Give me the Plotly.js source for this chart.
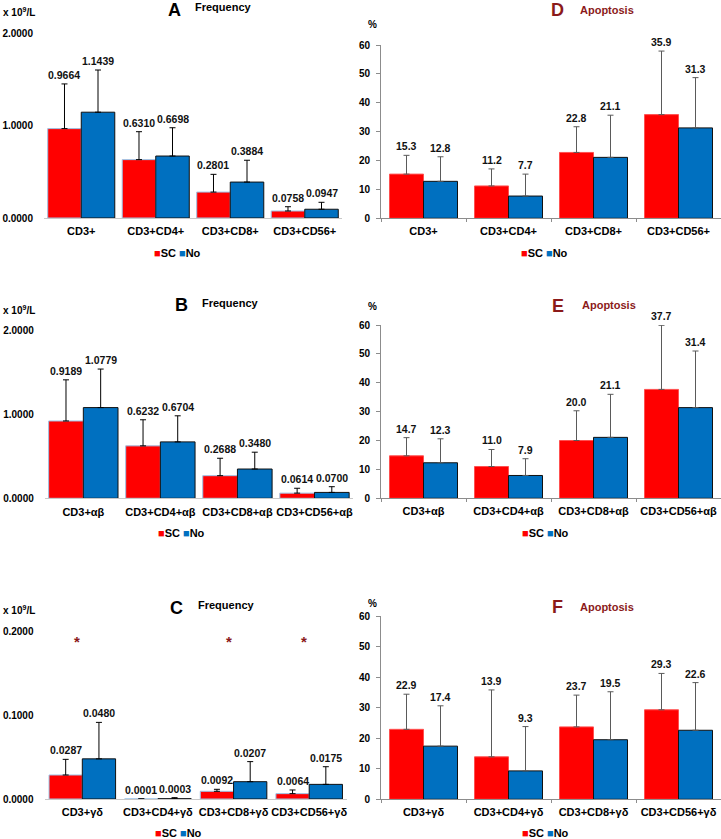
<!DOCTYPE html>
<html><head><meta charset="utf-8">
<script src="https://cdn.plot.ly/plotly-3.0.1.min.js"></script>
<style>html,body{margin:0;padding:0;background:#fff}#chart{width:721px;height:839px}</style>
</head><body><div id="chart"></div>
<script>
// ---- data ----
const categoriesA = ['CD3+', 'CD3+CD4+', 'CD3+CD8+', 'CD3+CD56+'];
const categoriesB = ['CD3+αβ', 'CD3+CD4+αβ', 'CD3+CD8+αβ', 'CD3+CD56+αβ'];
const categoriesC = ['CD3+γδ', 'CD3+CD4+γδ', 'CD3+CD8+γδ', 'CD3+CD56+γδ'];
const seriesNames = ['SC', 'No'];

const freqA_SC = [0.9664, 0.6310, 0.2801, 0.0758];
const freqA_SC_err = [0.483, 0.302, 0.192, 0.046];
const freqA_No = [1.1439, 0.6698, 0.3884, 0.0947];
const freqA_No_err = [0.456, 0.306, 0.236, 0.075];

const freqB_SC = [0.9189, 0.6232, 0.2688, 0.0614];
const freqB_SC_err = [0.489, 0.310, 0.207, 0.058];
const freqB_No = [1.0779, 0.6704, 0.3480, 0.0700];
const freqB_No_err = [0.458, 0.310, 0.200, 0.068];

const freqC_SC = [0.0287, 0.0001, 0.0092, 0.0064];
const freqC_SC_err = [0.0187, 0.0, 0.0024, 0.0044];
const freqC_No = [0.0480, 0.0003, 0.0207, 0.0175];
const freqC_No_err = [0.0436, 0.0013, 0.0240, 0.0211];
const sigC = ['*', '', '*', '*'];

const apoD_SC = [15.3, 11.2, 22.8, 35.9];
const apoD_SC_err = [6.5, 5.9, 8.9, 22.0];
const apoD_No = [12.8, 7.7, 21.1, 31.3];
const apoD_No_err = [8.5, 7.6, 14.6, 17.4];

const apoE_SC = [14.7, 11.0, 20.0, 37.7];
const apoE_SC_err = [6.3, 5.9, 10.3, 22.2];
const apoE_No = [12.3, 7.9, 21.1, 31.4];
const apoE_No_err = [8.3, 5.8, 14.9, 19.6];

const apoF_SC = [22.9, 13.9, 23.7, 29.3];
const apoF_SC_err = [11.5, 21.9, 10.4, 11.9];
const apoF_No = [17.4, 9.3, 19.5, 22.6];
const apoF_No_err = [13.2, 14.5, 15.7, 15.6];

// ---- layout helpers ----
const W = 721, H = 839;
const FONT = 'Liberation Sans, Arial, sans-serif';
const RED = '#FF0000', BLUE = '#0070C0', DARKRED = '#8B1A1A';
const dx = (a, b) => [a / W, b / W];
const dy = (top, bot) => [1 - bot / H, 1 - top / H];
const px = x => x / W, py = y => 1 - y / H;

const panels = [
  {id: '', cats: categoriesA, sc: freqA_SC, scE: freqA_SC_err, no: freqA_No, noE: freqA_No_err,
   kind: 'freq', xd: dx(44, 342), yd: dy(33, 218), range: [0, 2], gw: 0.9,
   letter: 'A', lx: 174, ly: 10, tx: 193, ty: 7, ux: 1, uy: 12, legX: 177, legY: 253},
  {id: '2', cats: categoriesA, sc: apoD_SC, scE: apoD_SC_err, no: apoD_No, noE: apoD_No_err,
   kind: 'apo', xd: dx(381, 721), yd: dy(45, 218.3), range: [0, 60], gw: 0.8,
   letter: 'D', lx: 557, ly: 10, tx: 578, ty: 10, ux: 366, uy: 25, legX: 544, legY: 253},
  {id: '3', cats: categoriesB, sc: freqB_SC, scE: freqB_SC_err, no: freqB_No, noE: freqB_No_err,
   kind: 'freq', xd: dx(44.8, 353), yd: dy(330, 498.3), range: [0, 2], gw: 0.9,
   letter: 'B', lx: 181, ly: 305, tx: 200, ty: 302.5, ux: 1, uy: 310, legX: 181, legY: 533},
  {id: '4', cats: categoriesB, sc: apoE_SC, scE: apoE_SC_err, no: apoE_No, noE: apoE_No_err,
   kind: 'apo', xd: dx(381, 721), yd: dy(325, 498.3), range: [0, 60], gw: 0.8,
   letter: 'E', lx: 557.5, ly: 306, tx: 580, ty: 304.5, ux: 366, uy: 306.5, legX: 545, legY: 533},
  {id: '5', cats: categoriesC, sc: freqC_SC, scE: freqC_SC_err, no: freqC_No, noE: freqC_No_err,
   kind: 'freq', xd: dx(44.5, 347), yd: dy(631.7, 799), range: [0, 0.2], gw: 0.88,
   letter: 'C', lx: 176, ly: 607.5, tx: 196, ty: 604.5, ux: 1, uy: 610, legX: 178, legY: 833},
  {id: '6', cats: categoriesC, sc: apoF_SC, scE: apoF_SC_err, no: apoF_No, noE: apoF_No_err,
   kind: 'apo', xd: dx(381, 721), yd: dy(616, 799.3), range: [0, 60], gw: 0.8,
   letter: 'F', lx: 557.5, ly: 606.5, tx: 578, ty: 607, ux: 366, uy: 603, legX: 545, legY: 833}
];

const traces = [];
const annotations = [];
const layout = {
  width: W, height: H,
  margin: {l: 0, r: 0, t: 0, b: 0},
  paper_bgcolor: '#fff', plot_bgcolor: 'rgba(0,0,0,0)',
  barmode: 'overlay', showlegend: false,
  font: {family: FONT, size: 11, color: '#000', weight: 'bold'},
  annotations: annotations
};

panels.forEach(p => {
  const xa = 'x' + p.id, ya = 'y' + p.id;
  const w = p.gw / 2;
  const isFreq = p.kind === 'freq';
  const errColor = isFreq ? '#000' : '#5a5a5a';
  const mk = (vals, errs, color, lineColor, off, name) => ({
    type: 'bar', x: p.cats, y: vals, name: name,
    xaxis: xa, yaxis: ya, width: w, offset: off,
    marker: {color: color, line: {color: lineColor, width: 1}},
    error_y: {type: 'data', array: errs, arrayminus: errs.map(() => 0), symmetric: false,
              color: errColor, thickness: 1, width: 3},
    cliponaxis: false, hoverinfo: 'skip'
  });
  traces.push(mk(p.sc, p.scE, RED, isFreq ? '#9DC3E6' : '#FF5050', -w, seriesNames[0]));
  traces.push(mk(p.no, p.noE, BLUE, '#111', 0, seriesNames[1]));

  const xKey = 'xaxis' + p.id, yKey = 'yaxis' + p.id;
  layout[xKey] = {
    domain: p.xd, anchor: ya, type: 'category', range: [-0.5, 3.5],
    showline: true, linecolor: isFreq ? '#c8c8c8' : '#8c8c8c', linewidth: 1,
    ticks: isFreq ? '' : 'outside', tickson: 'boundaries', ticklen: 3, tickcolor: '#8c8c8c',
    tickangle: 0,
    showgrid: false, zeroline: false, fixedrange: true,
    tickfont: {family: FONT, size: 11, color: '#000', weight: 'bold'},
    ticklabelstandoff: isFreq ? 3 : 2
  };
  layout[yKey] = {
    domain: p.yd, anchor: xa, range: p.range,
    showgrid: false, zeroline: false, fixedrange: true,
    tickfont: {family: FONT, size: 10, color: '#000', weight: 'bold'}
  };
  if (isFreq) {
    Object.assign(layout[yKey], {
      tickvals: [p.range[0], p.range[1] / 2, p.range[1]], tickformat: '.4f',
      showline: false, ticks: '', ticklabelstandoff: 10
    });
  } else {
    Object.assign(layout[yKey], {
      tickvals: [0, 10, 20, 30, 40, 50, 60],
      showline: true, linecolor: '#8c8c8c', linewidth: 1,
      ticks: 'outside', ticklen: 4, tickcolor: '#8c8c8c', ticklabelstandoff: 4
    });
  }

  // value labels above error bars
  const fmt = v => isFreq ? v.toFixed(4) : v.toFixed(1);
  [[p.sc, p.scE, -w / 2], [p.no, p.noE, w / 2]].forEach(([vals, errs, d]) => {
    vals.forEach((v, i) => {
      annotations.push({
        xref: xa, yref: ya, x: i + d, y: v + errs[i], text: fmt(v),
        showarrow: false, yanchor: 'bottom', xanchor: 'center', yshift: 1,
        font: {family: FONT, size: 10.5, color: '#111', weight: 'bold'}
      });
    });
  });

  // panel letter and title
  const tColor = isFreq ? '#000' : DARKRED;
  annotations.push({xref: 'paper', yref: 'paper', x: px(p.lx), y: py(p.ly), text: p.letter,
    showarrow: false, xanchor: 'center', yanchor: 'middle',
    font: {family: FONT, size: 18, color: tColor, weight: 'bold'}});
  annotations.push({xref: 'paper', yref: 'paper', x: px(p.tx), y: py(p.ty),
    text: isFreq ? 'Frequency' : 'Apoptosis',
    showarrow: false, xanchor: 'left', yanchor: 'middle',
    font: {family: FONT, size: 11, color: tColor, weight: 'bold'}});
  // unit label
  annotations.push({xref: 'paper', yref: 'paper', x: px(p.ux), y: py(p.uy),
    text: isFreq ? 'x 10<sup>9</sup>/L' : '%',
    showarrow: false, xanchor: 'left', yanchor: 'middle',
    font: {family: FONT, size: 10, color: '#000', weight: 'bold'}});
  // legend
  annotations.push({xref: 'paper', yref: 'paper', x: px(p.legX), y: py(p.legY),
    text: '<span style="color:' + RED + '">■</span>' + seriesNames[0] +
          ' <span style="color:' + BLUE + '">■</span>' + seriesNames[1],
    showarrow: false, xanchor: 'center', yanchor: 'middle',
    font: {family: FONT, size: 11, color: '#000', weight: 'bold'}});
});

// significance markers (panel C)
sigC.forEach((s, i) => {
  if (!s) return;
  annotations.push({xref: 'x5', yref: 'y5', x: i, y: 0.188, text: s, showarrow: false,
    xshift: -5, yanchor: 'middle',
    font: {family: FONT, size: 15, color: DARKRED, weight: 'bold'}});
});

Plotly.newPlot('chart', traces, layout, {displayModeBar: false, staticPlot: true});
</script>
</body></html>
